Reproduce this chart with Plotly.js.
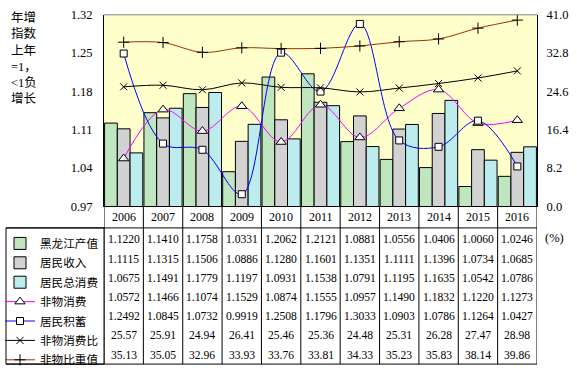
<!DOCTYPE html>
<html><head><meta charset="utf-8">
<script src="https://cdn.plot.ly/plotly-3.0.1.min.js"></script>
<style>html,body{margin:0;padding:0;background:#fff}#chart{width:577px;height:375px}</style>
</head><body><div id="chart"></div>
<script>
const years = ['2006','2007','2008','2009','2010','2011','2012','2013','2014','2015','2016'];
const names = ['黑龙江产值','居民收入','居民总消费','非物消费','居民积蓄','非物消费比','非物比重值'];
const hljOutput   = [1.1220,1.1410,1.1758,1.0331,1.2062,1.2121,1.0881,1.0556,1.0406,1.0060,1.0246];
const income      = [1.1115,1.1315,1.1506,1.0886,1.1280,1.1601,1.1351,1.1111,1.1396,1.0734,1.0685];
const consumption = [1.0675,1.1491,1.1779,1.1197,1.0931,1.1538,1.0791,1.1195,1.1635,1.0542,1.0786];
const nonMatCons  = [1.0572,1.1466,1.1074,1.1529,1.0874,1.1555,1.0957,1.1490,1.1832,1.1220,1.1273];
const savings     = [1.2492,1.0845,1.0732,0.9919,1.2508,1.1796,1.3033,1.0903,1.0786,1.1264,1.0427];
const nonMatRatio = [25.57,25.91,24.94,26.41,25.46,25.36,24.48,25.31,26.28,27.47,28.98];
const nonMatShare = [35.13,35.05,32.96,33.93,33.76,33.81,34.33,35.23,35.83,38.14,39.86];
const leftTitle = '年增<br>指数<br>上年<br>=1，<br>&lt;1负<br>增长';

const W = 577, H = 375;
const px = v => v / W, py = v => (H - v) / H;
const serif = 'Liberation Serif, Times New Roman, serif';
const cjk = 'Noto Sans CJK SC, sans-serif';

const barLine = {color:'#000', width:1};
const traces = [
  {type:'bar', name:names[0], legendgroup:'g0', x:years, y:hljOutput, marker:{color:'#BFE6BF', line:barLine}},
  {type:'bar', name:names[1], legendgroup:'g1', x:years, y:income, marker:{color:'#D2D2D2', line:barLine}},
  {type:'bar', name:names[2], legendgroup:'g2', x:years, y:consumption, marker:{color:'#BDECEE', line:barLine}},
  {type:'scatter', mode:'lines+markers', name:names[3], legendgroup:'g3', x:years, y:nonMatCons,
   line:{color:'#FF00FF', width:1, shape:'spline', smoothing:1},
   marker:{symbol:'triangle-up', size:9, color:'#fff', line:{color:'#000', width:1}}},
  {type:'scatter', mode:'lines+markers', name:names[4], legendgroup:'g4', x:years, y:savings,
   line:{color:'#0000FF', width:1, shape:'spline', smoothing:1},
   marker:{symbol:'square', size:7, color:'#fff', line:{color:'#000', width:1}}},
  {type:'scatter', mode:'lines+markers', name:names[5], legendgroup:'g5', x:years, y:nonMatRatio, yaxis:'y2',
   line:{color:'#000', width:1, shape:'spline', smoothing:1},
   marker:{symbol:'x-thin', size:7, color:'#000', line:{color:'#000', width:1}}},
  {type:'scatter', mode:'lines+markers', name:names[6], legendgroup:'g6', x:years, y:nonMatShare, yaxis:'y2',
   line:{color:'#993300', width:1, shape:'spline', smoothing:1},
   marker:{symbol:'cross-thin', size:8, color:'#000', line:{color:'#000', width:1}}}
];

const rows = [hljOutput, income, consumption, nonMatCons, savings, nonMatRatio, nonMatShare];
const decimals = [4,4,4,4,4,2,2];

const annotations = [
  {text:leftTitle, xref:'paper', yref:'paper', x:px(9), y:py(8), xanchor:'left', yanchor:'top',
   align:'left', showarrow:false, font:{family:serif + ', ' + cjk, size:12.5, color:'#000'}},
  {text:'(%)', xref:'paper', yref:'paper', x:px(543), y:py(241), xanchor:'left', yanchor:'middle',
   showarrow:false, font:{family:serif, size:12.5, color:'#000'}}
];
years.forEach((yr, j) => {
  annotations.push({text:yr, xref:'x', yref:'paper', x:j, y:py(219.5), xanchor:'center', yanchor:'middle',
    showarrow:false, font:{family:serif, size:12, color:'#000'}});
  rows.forEach((r, i) => {
    annotations.push({text:r[j].toFixed(decimals[i]), xref:'x', yref:'paper', x:j, y:py(243 + i * 19.5),
      xanchor:'center', yanchor:'middle', showarrow:false, font:{family:serif, size:11.6, color:'#000'}});
  });
});

const shapes = [];
for (let k = 0; k <= years.length; k++) {
  shapes.push({type:'line', xref:'x', yref:'paper', x0:k-0.5, x1:k-0.5, y0:py(369), y1:py(209),
               line:{color:'#000', width:1}});
}
shapes.push({type:'rect', xref:'paper', yref:'paper', x0:px(6), x1:px(104), y0:py(369), y1:py(231), line:{color:'#000', width:1}});
shapes.push({type:'line', xref:'paper', yref:'paper', x0:px(6), x1:px(537), y0:py(231), y1:py(231), line:{color:'#000', width:1}});
shapes.push({type:'line', xref:'paper', yref:'paper', x0:px(6), x1:px(537), y0:py(369), y1:py(369), line:{color:'#000', width:1}});
shapes.push({type:'line', xref:'paper', yref:'paper', x0:px(104), x1:px(537), y0:py(15), y1:py(15), line:{color:'#808080', width:1}});

const layout = {
  width:W, height:H, margin:{l:0, r:0, t:0, b:0},
  paper_bgcolor:'#fff', plot_bgcolor:'#FFFFCC',
  barmode:'group', bargap:0.03, bargroupgap:0,
  showlegend:true,
  legend:{x:0, y:py(232), xanchor:'left', yanchor:'top', bgcolor:'rgba(0,0,0,0)', borderwidth:0,
          font:{family:cjk, size:11.6, color:'#000'}, itemwidth:30, tracegroupgap:0.4},
  xaxis:{domain:[px(104), px(537)], type:'category', range:[-0.5, 10.5], showticklabels:false,
         showline:true, linecolor:'#000', linewidth:1, ticks:'', showgrid:false, zeroline:false, fixedrange:true},
  yaxis:{domain:[py(209), py(15)], range:[0.97, 1.32], tick0:0.97, dtick:0.07, tickformat:'.2f',
         showline:true, linecolor:'#000', linewidth:1, ticks:'', showgrid:false, zeroline:false,
         tickfont:{family:serif, size:12.5, color:'#000'}, ticklabelstandoff:8},
  yaxis2:{overlaying:'y', side:'right', range:[0, 41], tick0:0, dtick:8.2, tickformat:'.1f',
          showline:true, linecolor:'#000', linewidth:1, ticks:'', showgrid:false, zeroline:false,
          tickfont:{family:serif, size:12.5, color:'#000'}, ticklabelstandoff:6},
  shapes:shapes,
  annotations:annotations
};
Plotly.newPlot('chart', traces, layout, {displayModeBar:false, staticPlot:true});
</script></body></html>
